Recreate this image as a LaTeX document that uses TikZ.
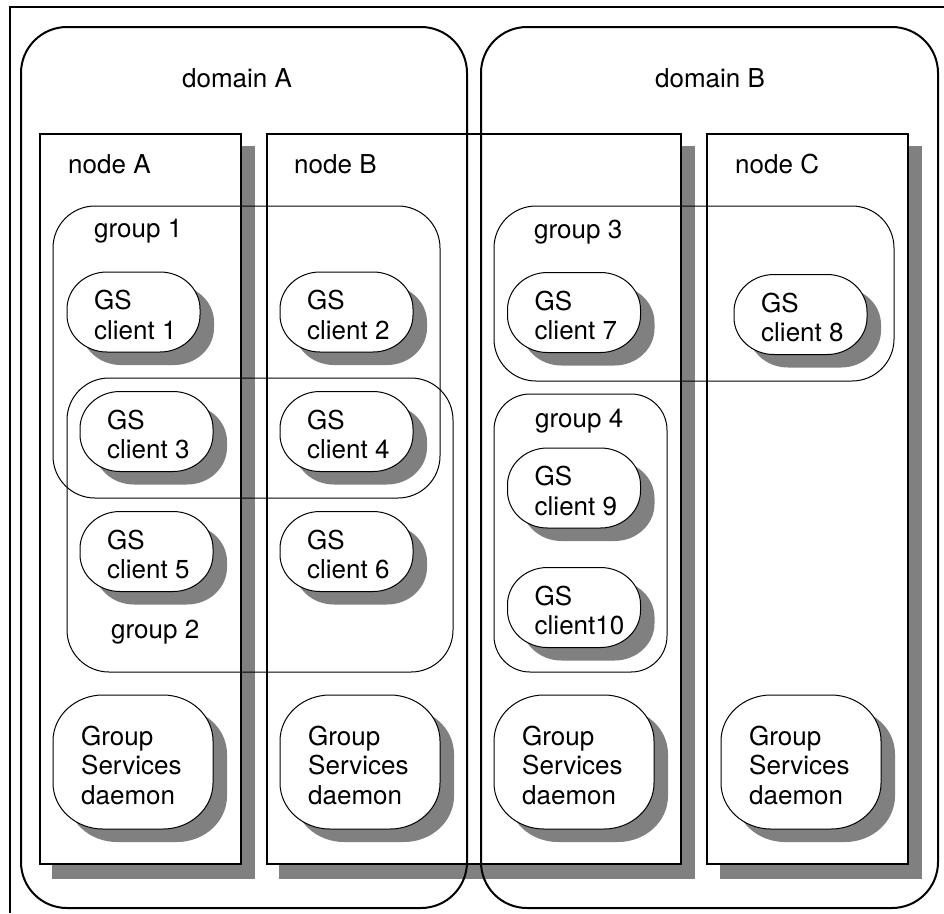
\documentclass[tikz,border=0pt]{standalone}
\usepackage{fontspec}
\setmainfont{TeX Gyre Heros}

% outline of a box with elliptic corners, centred on (0,0):
% #1 half width, #2 half height, #3 corner x radius, #4 corner y radius
\newcommand{\softoutline}[4]{({-#1+#3},{-#2}) -- ({#1-#3},{-#2})
  .. controls ({#1-0.448*#3},{-#2}) and ({#1},{-#2+0.448*#4}) .. ({#1},{-#2+#4})
  -- ({#1},{#2-#4})
  .. controls ({#1},{#2-0.448*#4}) and ({#1-0.448*#3},{#2}) .. ({#1-#3},{#2})
  -- ({-#1+#3},{#2})
  .. controls ({-#1+0.448*#3},{#2}) and ({-#1},{#2-0.448*#4}) .. ({-#1},{#2-#4})
  -- ({-#1},{-#2+#4})
  .. controls ({-#1},{-#2+0.448*#4}) and ({-#1+0.448*#3},{-#2}) .. ({-#1+#3},{-#2}) -- cycle}

% shadowed process box: #1 name, #2 centre x, #3 centre y, #4 half width,
% #5 half height, #6 rx, #7 ry, #8 text inset, #9 text
\newcommand{\procbox}[9]{%
  \begin{scope}[shift={(#2,#3)}]
    \fill[shadowfill] [shift={(14,13)}] \softoutline{#4}{#5}{#6}{#7};
    \filldraw[fill=white, light] \softoutline{#4}{#5}{#6}{#7};
    \node[boxtext, anchor=west] (#1) at ({-#4+#8},3) {#9};
  \end{scope}}

\tikzset{
  heavy/.style={line width=2pt},
  light/.style={line width=1pt},
  shadowfill/.style={fill=black!50},
  boxtext/.style={align=left},
  grouprect/.style={light, rounded corners=42pt},
  domainrect/.style={heavy, rounded corners=46pt},
}

\begin{document}
\begin{tikzpicture}[x=1pt, y=-1pt,
  every node/.style={inner sep=0pt, font=\fontsize{26}{29.5}\selectfont}]
\useasboundingbox (0,0) rectangle (944,913);

% outer frame
\draw[heavy] (10,913) -- (10,7) -- (944,7);

% machine boxes with their shadows
\fill[shadowfill] (52,146) rectangle (255,879);
\fill[shadowfill] (279,146) rectangle (695,879);
\fill[shadowfill] (720,146) rectangle (922,879);
\filldraw[fill=white, heavy] (40,134) rectangle (241,864);
\filldraw[fill=white, heavy] (267,134) rectangle (681,864);
\filldraw[fill=white, heavy] (707,134) rectangle (908,864);

% domains
\draw[domainrect] (21,27) rectangle (467,908);
\draw[domainrect] (481,27) rectangle (938,908);

% groups
\draw[grouprect] (53,206) rectangle (440,498);
\draw[grouprect] (67,378) rectangle (453,672);
\draw[grouprect] (494,206) rectangle (894,381);
\draw[light, rounded corners=36pt] (494,394) rectangle (667,672);

% labels
\node[anchor=base] (domA) at (237,87) {domain A};
\node[anchor=base] (domB) at (710,87) {domain B};
\node[anchor=base west] (nodeA) at (68,173) {node A};
\node[anchor=base west] (nodeB) at (294,173) {node B};
\node[anchor=base west] (nodeC) at (735,173) {node C};
\node[anchor=base west] (grp1) at (94,237) {group 1};
\node[anchor=base west] (grp2) at (111,638) {group 2};
\node[anchor=base west] (grp3) at (534,238) {group 3};
\node[anchor=base west] (grp4) at (535,427) {group 4};

% group services clients
\procbox{c1}{133.5}{312}{66.5}{40}{40}{37}{27}{GS\\client 1}
\procbox{c2}{346.5}{312}{66.5}{40}{40}{37}{27}{GS\\client 2}
\procbox{c3}{146.5}{431.5}{66.5}{40}{40}{37}{27}{GS\\client 3}
\procbox{c4}{346.5}{431.5}{66.5}{40}{40}{37}{27}{GS\\client 4}
\procbox{c5}{146.5}{551.5}{66.5}{40}{40}{37}{27}{GS\\client 5}
\procbox{c6}{346.5}{551.5}{66.5}{40}{40}{37}{27}{GS\\client 6}
\procbox{c7}{574}{312.5}{66.5}{40}{40}{37}{27}{GS\\client 7}
\procbox{c8}{800.5}{314.5}{66.5}{40}{40}{37}{27}{GS\\client 8}
\procbox{c9}{574}{488}{66.5}{40}{40}{37}{27}{GS\\client 9}
\procbox{c10}{574}{607.5}{66.5}{40}{40}{37}{27}{GS\\client10}

% group services daemons
\procbox{dA}{133}{762}{80}{67}{50}{46}{28}{Group\\Services\\daemon}
\procbox{dB}{360}{762}{80}{67}{50}{46}{28}{Group\\Services\\daemon}
\procbox{dBx}{574}{762}{80}{67}{50}{46}{28}{Group\\Services\\daemon}
\procbox{dC}{801}{762}{80}{67}{50}{46}{28}{Group\\Services\\daemon}
\end{tikzpicture}
\end{document}
